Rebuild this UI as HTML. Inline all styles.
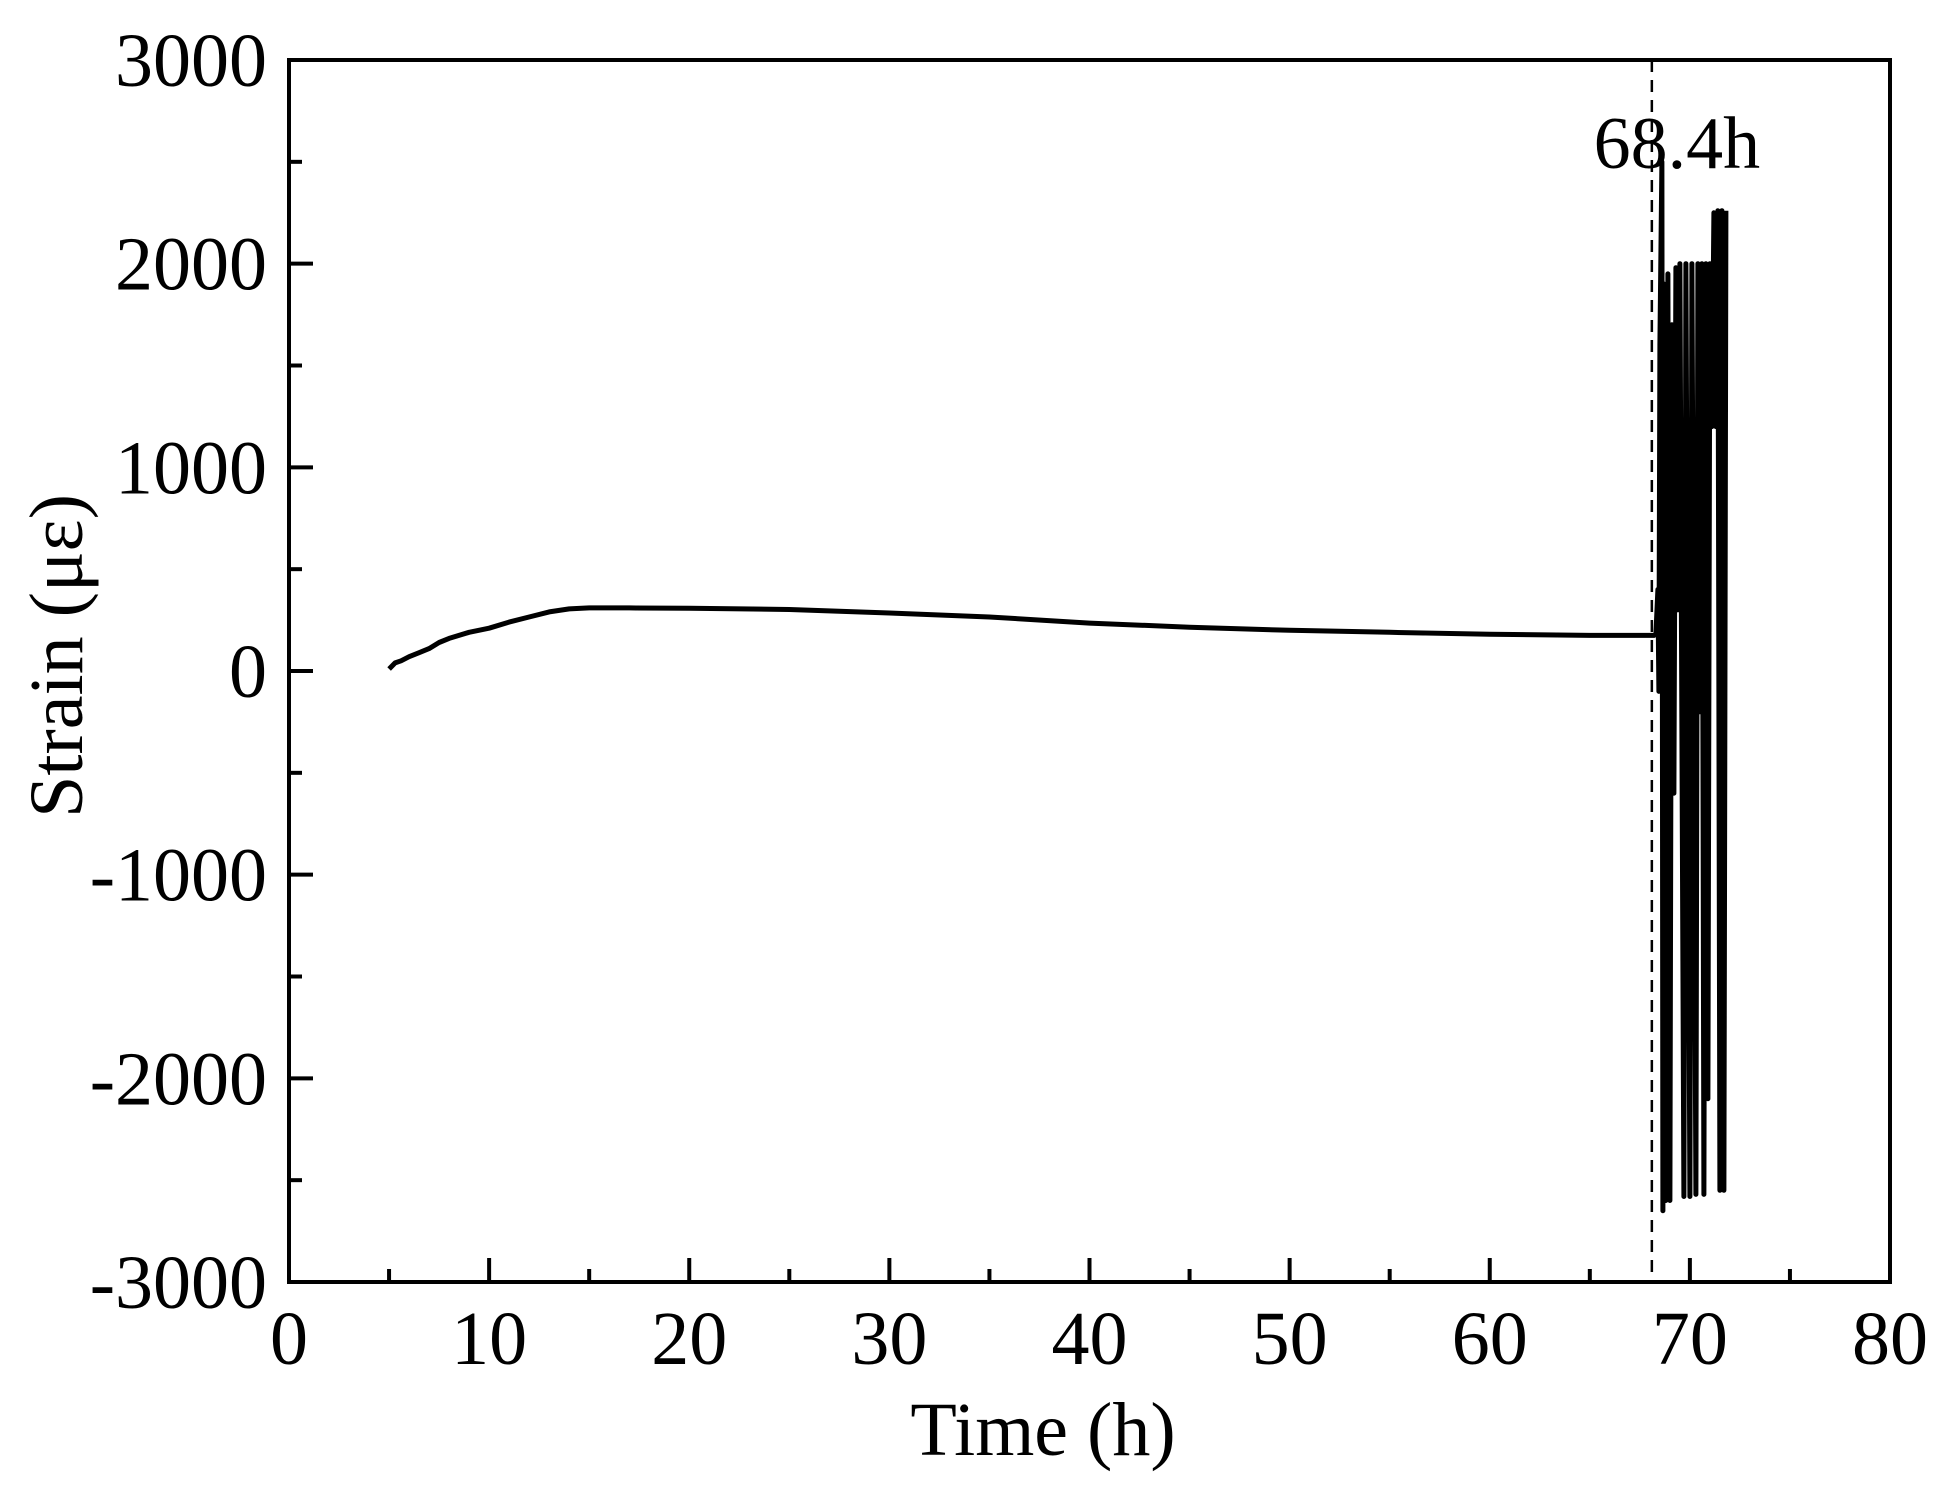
<!DOCTYPE html>
<html><head><meta charset="utf-8"><style>body{margin:0;background:#fff}svg{display:block}text{font-family:"Liberation Serif",serif;fill:#000}</style></head>
<body>
<svg id="chart" width="1936" height="1485" viewBox="0 0 1936 1485"></svg>
<script>
const xTicks=[0,10,20,30,40,50,60,70,80];
const yTicks=[-3000,-2000,-1000,0,1000,2000,3000];
const eventTime=68.1;
const eventLabel="68.4h";
const times=[5,5.3,5.6,6,6.5,7,7.5,8,9,10,11,12,13,14,15,17,20,25,30,35,40,45,50,55,60,65,68.2,
68.3,68.4,68.45,68.5,68.6,68.65,68.7,68.8,68.9,69.0,69.1,69.2,69.3,69.4,69.5,69.7,69.8,70.0,70.1,70.3,70.4,70.5,70.6,70.7,70.8,70.9,71.0,71.1,71.2,71.3,71.4,71.5,71.6,71.7,71.8];
const strain=[10,40,50,70,90,110,140,160,190,210,240,265,290,305,310,310,308,302,285,265,235,215,200,190,180,175,175,
180,400,-100,1600,2500,-2650,1900,-2600,1950,-2600,1700,-600,1980,300,2000,-2580,2000,-2580,2000,-2570,2000,-200,2000,-2570,2000,-2100,2000,1200,2250,1200,2260,-2550,2260,-2550,2260];
const L=289,R=1890,T=60,B=1282;
const xs=v=>L+(v-0)/80*(R-L);
const ys=v=>B-(v+3000)/6000*(B-T);
const svg=document.getElementById('chart');
const NS='http://www.w3.org/2000/svg';
function mk(tag,attrs,parent){const e=document.createElementNS(NS,tag);for(const k in attrs)e.setAttribute(k,attrs[k]);(parent||svg).appendChild(e);return e;}
let d='';times.forEach((t,i)=>{d+=(i?'L':'M')+xs(t).toFixed(1)+','+ys(strain[i]).toFixed(1);});
const line=mk('path',{d:d,fill:'none',stroke:'#000','stroke-width':5,'stroke-linejoin':'round'});


const ev=mk('line',{x1:xs(eventTime),x2:xs(eventTime),y1:T,y2:B,stroke:'#000','stroke-width':2.5,'stroke-dasharray':'12,8'});


const evt=mk('text',{x:xs(eventTime)+25,y:168,'font-size':74,'text-anchor':'middle'});
evt.textContent=eventLabel;


const fr=mk('rect',{x:L,y:T,width:R-L,height:B-T,fill:'none',stroke:'#000','stroke-width':4});


for(let v=0;v<=80;v+=5){const major=v%10===0;const tk=mk('line',{x1:xs(v),x2:xs(v),y1:B,y2:B-(major?24:13),stroke:'#000','stroke-width':4});

}
xTicks.forEach(v=>{const t=mk('text',{x:xs(v),y:B+82,'font-size':76,'text-anchor':'middle'});t.textContent=v;

});
for(let v=-3000;v<=3000;v+=500){const major=v%1000===0;const tk=mk('line',{x1:L,x2:L+(major?24:13),y1:ys(v),y2:ys(v),stroke:'#000','stroke-width':4});

}
yTicks.forEach(v=>{const t=mk('text',{x:L-22,y:ys(v)+26,'font-size':76,'text-anchor':'end'});t.textContent=v;

});
const xt=mk('text',{x:1043,y:1455,'font-size':76,'text-anchor':'middle'});xt.textContent='Time (h)';


const yt=mk('text',{x:0,y:0,'font-size':76,'text-anchor':'middle',transform:'translate(82,'+(ys(0)-15)+') rotate(-90)'});yt.textContent='Strain (με)';


</script>
</body></html>
